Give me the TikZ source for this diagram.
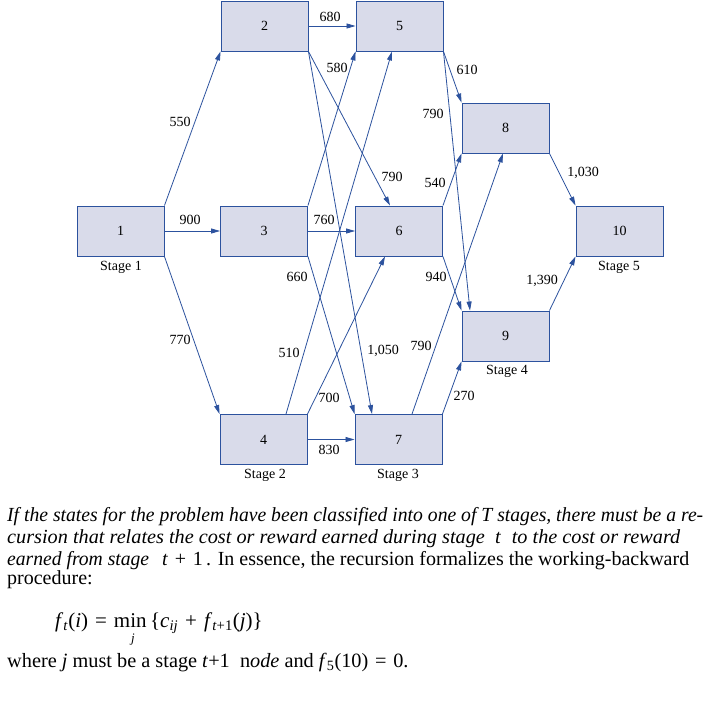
\documentclass[tikz,border=0pt]{standalone}
\usepackage{fontspec}
\setmainfont{Liberation Serif}
\usepackage{graphicx}
\usetikzlibrary{arrows.meta}
\definecolor{boxfill}{RGB}{217,219,234}
\definecolor{edgeblue}{RGB}{44,82,158}
\begin{document}
\begin{tikzpicture}[x=1pt,y=-1pt,
  stagebox/.style={draw=edgeblue, fill=boxfill, line width=0.9pt, minimum width=87pt, minimum height=50pt, inner sep=0pt, font=\rmfamily\fontsize{14}{16}\selectfont},
  conn/.style={draw=edgeblue, line width=0.8pt, -{Triangle[length=9pt,width=5pt]}},
  wlabel/.style={font=\rmfamily\fontsize{14}{16}\selectfont, inner sep=0pt},
  para/.style={anchor=base west, inner sep=0pt, font=\rmfamily\fontsize{20}{24}\selectfont}]
\fill[white] (0,0) rectangle (723,720);
\useasboundingbox (0,0) rectangle (723,720);

% boxes
\node[stagebox] (n1) at (120.5,231) {1};
\node[stagebox] (n2) at (264.5,26) {2};
\node[stagebox] (n3) at (264,231) {3};
\node[stagebox] (n4) at (263.5,439.5) {4};
\node[stagebox] (n5) at (399.5,26) {5};
\node[stagebox] (n6) at (399,231) {6};
\node[stagebox] (n7) at (398.5,439.5) {7};
\node[stagebox] (n8) at (505.5,128) {8};
\node[stagebox] (n9) at (505.5,336) {9};
\node[stagebox] (n10) at (619.5,231) {10};

% stage labels
\node[wlabel] (s1) at (121,267) {Stage 1};
\node[wlabel] (s2) at (265,475) {Stage 2};
\node[wlabel] (s3) at (398,475) {Stage 3};
\node[wlabel] (s4) at (507,371) {Stage 4};
\node[wlabel] (s5) at (619,267) {Stage 5};

% connectors
\draw[conn] (n1.north east) -- (n2.south west);
\draw[conn] (n1.east) -- (n3.west);
\draw[conn] (n1.south east) -- (n4.north west);
\draw[conn] (n2.east) -- (n5.west);
\draw[conn] (n2.south east) -- ([xshift=-9pt]n6.north);
\draw[conn] (n2.south east) -- ([xshift=-26.5pt]n7.north);
\draw[conn] (n3.north east) -- (n5.south west);
\draw[conn] (n3.east) -- (n6.west);
\draw[conn] (n3.south east) -- (n7.north west);
\draw[conn] ([xshift=22.5pt]n4.north) -- ([xshift=-7.5pt]n5.south);
\draw[conn] (n4.north east) -- ([xshift=-14pt]n6.south);
\draw[conn] (n4.east) -- (n7.west);
\draw[conn] (n5.south east) -- (n8.north west);
\draw[conn] (n5.south east) -- ([xshift=-35.5pt]n9.north);
\draw[conn] (n6.north east) -- (n8.south west);
\draw[conn] (n6.south east) -- (n9.north west);
\draw[conn] ([xshift=13.5pt]n7.north) -- ([xshift=-2.5pt]n8.south);
\draw[conn] (n7.north east) -- (n9.south west);
\draw[conn] (n8.south east) -- (n10.north west);
\draw[conn] (n9.north east) -- (n10.south west);

% weights
\node[wlabel] (w12) at (180,122) {550};
\node[wlabel] (w13) at (190,220) {900};
\node[wlabel] (w14) at (180,340) {770};
\node[wlabel] (w25) at (330,17) {680};
\node[wlabel] (w26) at (392,177) {790};
\node[wlabel] (w35) at (337,68) {580};
\node[wlabel] (w36) at (324,220) {760};
\node[wlabel] (w37) at (297,277) {660};
\node[wlabel] (w45) at (289,353) {510};
\node[wlabel] (w27) at (383,351) {1,050};
\node[wlabel] (w78) at (421,346) {790};
\node[wlabel] (w46) at (329,398) {700};
\node[wlabel] (w47) at (329,450) {830};
\node[wlabel] (w69) at (436,277) {940};
\node[wlabel] (w58) at (467,70) {610};
\node[wlabel] (w59) at (433,114) {790};
\node[wlabel] (w68) at (435,183) {540};
\node[wlabel] (w810) at (583,173) {1,030};
\node[wlabel] (w910) at (542,281) {1,390};
\node[wlabel] (w79) at (464,396) {270};

% paragraph
\node[para] (p1) at (7,521) {\resizebox{696pt}{\height}{\itshape If the states for the problem have been classified into one of T stages, there must be a re-}};
\node[para] (p2) at (7,543) {\resizebox{673pt}{\height}{\itshape cursion that relates the cost or reward earned during stage\hspace{0.5em}t\hspace{0.3em} to the cost or reward}};
\node[para] (p3a) at (7,565) {\resizebox{142pt}{\height}{\itshape earned from stage}};
\node[para] (p3b) at (162,565) {\textit{t}\,\,+\,\,1\,. In essence, the recursion formalizes the working-backward};
\node[para] (p4) at (7,584) {procedure:};

% formula
\node[para, font=\rmfamily\fontsize{21}{24}\selectfont] (fm) at (55,627) {\textit{f}\textsubscript{\textit{t}}(\textit{i})\,\,=\,\,min\,\{\textit{c}\textsubscript{\textit{ij}}\,\,+\,\,\textit{f}\textsubscript{\textit{t}+1}(\textit{j})\}};
\node[para, anchor=base, font=\rmfamily\fontsize{13}{15}\selectfont] (fj) at (133,642) {\textit{j}};
\node[para, font=\rmfamily\fontsize{20.3}{24}\selectfont] (wh) at (7,667) {where \textit{j} must be a stage \textit{t}+1\ \ n\textit{ode} and \textit{f}\textsubscript{5}(10)\,\,=\,\,0.};
\end{tikzpicture}
\end{document}
